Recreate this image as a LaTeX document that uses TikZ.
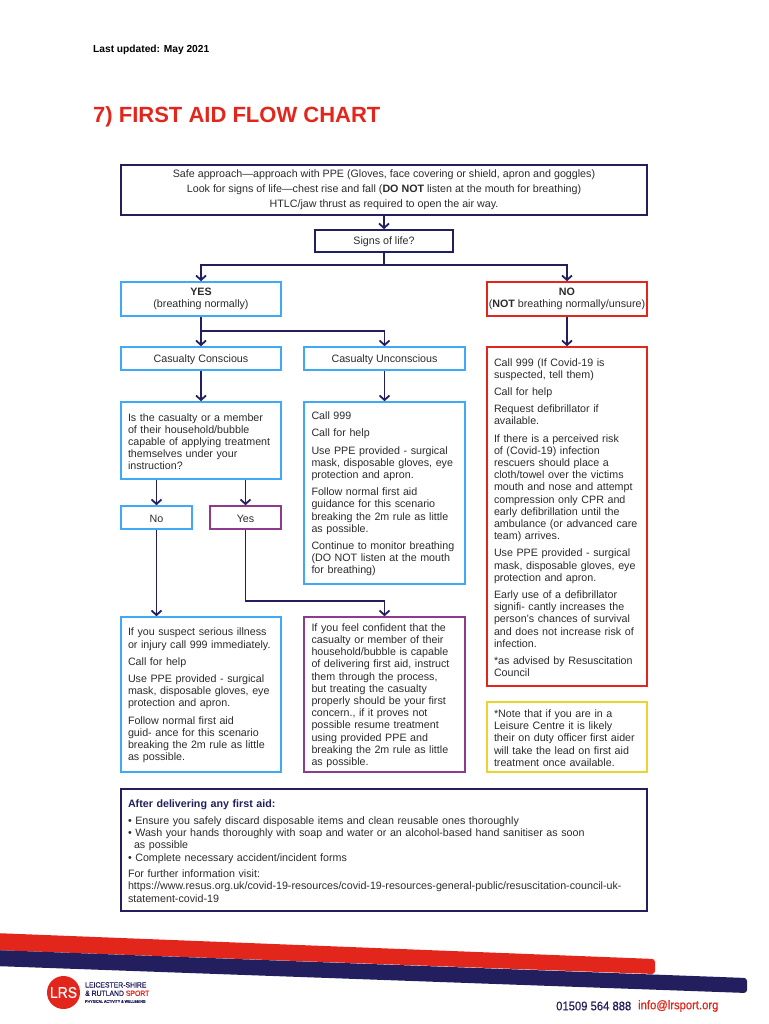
\documentclass[tikz,border=0pt]{standalone}
\usepackage{fontspec}
\setmainfont{Liberation Sans}
\newfontfamily\narrowfont[FakeStretch=0.9,FakeBold=0.6]{Liberation Sans}
\usetikzlibrary{arrows.meta}

\definecolor{lrsnavy}{HTML}{231F5E}
\definecolor{lrsred}{HTML}{E2261C}
\definecolor{lrsblue}{HTML}{3FA9F5}
\definecolor{lrspurple}{HTML}{8E3A8E}
\definecolor{lrsyellow}{HTML}{E8D52E}
\definecolor{bodygrey}{HTML}{2B2B2B}

\tikzset{
    panel/.style={draw=#1, line width=1.6pt, inner sep=0pt, text=bodygrey,
        font=\fontsize{10.7}{12.2}\selectfont, align=center,
        execute at begin node=\rule{0pt}{10pt}},
    textpanel/.style={panel=#1, align=left, text width=146pt},
    flow/.style={-{Straight Barb[length=4.5pt,width=10pt]}, line width=1.8pt, draw=lrsnavy},
    feed/.style={line width=1.8pt, draw=lrsnavy}
}

\begin{document}
\begin{tikzpicture}[x=1pt, y=-1pt]
    \useasboundingbox (0,0) rectangle (768,1024);

    % Page heading
    \node[anchor=west, inner sep=0pt, font=\bfseries\fontsize{10.2}{12}\selectfont] (updated) at (93,49.5) {Last updated: May 2021};
    \node[anchor=west, inner sep=0pt, text=lrsred, font=\bfseries\fontsize{22}{26}\selectfont] (title) at (93,117) {7) FIRST AID FLOW CHART};

    % Top of the chart
    \node[panel=lrsnavy, minimum width=526pt, minimum height=50pt] (approach) at (384,190)
        {Safe approach—approach with PPE (Gloves, face covering or shield, apron and goggles)\\[2.8pt]
         Look for signs of life—chest rise and fall (\textbf{DO NOT} listen at the mouth for breathing)\\[2.8pt]
         HTLC/jaw thrust as required to open the air way.};
    \node[panel=lrsnavy, minimum width=138pt, minimum height=22pt] (signs) at (384,241) {Signs of life?};
    \node[panel=lrsblue, minimum width=160pt, minimum height=34pt] (yes) at (201,299) {\textbf{YES}\\(breathing normally)};
    \node[panel=lrsred, minimum width=160pt, minimum height=34pt] (no) at (567,299) {\textbf{NO}\\(\textbf{NOT} breathing normally/unsure)};

    % Yes branch
    \node[panel=lrsblue, minimum width=160pt, minimum height=23pt] (conscious) at (201,358.5) {Casualty Conscious};
    \node[panel=lrsblue, minimum width=161pt, minimum height=23pt] (unconscious) at (384.5,358.5) {Casualty Unconscious};
    \node[textpanel=lrsblue, minimum width=160pt, minimum height=77pt] (question) at (201,440.5)
        {Is the casualty or a member\\of their household/bubble\\capable of applying treatment\\themselves under your\\instruction?};
    \node[panel=lrsblue, minimum width=71pt, minimum height=23pt] (choiceno) at (156.5,517.5) {No};
    \node[panel=lrspurple, minimum width=71pt, minimum height=23pt] (choiceyes) at (245.5,517.5) {Yes};
    \node[textpanel=lrsblue, minimum width=161pt, minimum height=182pt] (call) at (384.5,493)
        {Call 999\\[5pt]
         Call for help\\[5pt]
         Use PPE provided - surgical\\mask, disposable gloves, eye\\protection and apron.\\[5pt]
         Follow normal first aid\\guidance for this scenario\\breaking the 2m rule as little\\as possible.\\[5pt]
         Continue to monitor breathing\\(DO NOT listen at the mouth\\for breathing)};
    \node[textpanel=lrsblue, minimum width=160pt, minimum height=155pt] (suspect) at (201,694.5)
        {If you suspect serious illness\\or injury call 999 immediately.\\[5pt]
         Call for help\\[5pt]
         Use PPE provided - surgical\\mask, disposable gloves, eye\\protection and apron.\\[5pt]
         Follow normal first aid\\guid- ance for this scenario\\breaking the 2m rule as little\\as possible.};
    \node[textpanel=lrspurple, minimum width=161pt, minimum height=155pt] (confident) at (384.5,694.5)
        {If you feel confident that the\\casualty or member of their\\household/bubble is capable\\of delivering first aid, instruct\\them through the process,\\but treating the casualty\\properly should be your first\\concern., if it proves not\\possible resume treatment\\using provided PPE and\\breaking the 2m rule as little\\as possible.};

    % No branch
    \node[textpanel=lrsred, minimum width=160pt, minimum height=339pt] (defib) at (567,516.5)
        {Call 999 (If Covid-19 is\\suspected, tell them)\\[5pt]
         Call for help\\[5pt]
         Request defibrillator if\\available.\\[5pt]
         If there is a perceived risk\\of (Covid-19) infection\\rescuers should place a\\cloth/towel over the victims\\mouth and nose and attempt\\compression only CPR and\\early defibrillation until the\\ambulance (or advanced care\\team) arrives.\\[5pt]
         Use PPE provided - surgical\\mask, disposable gloves, eye\\protection and apron.\\[5pt]
         Early use of a defibrillator\\signifi- cantly increases the\\person's chances of survival\\and does not increase risk of\\infection.\\[5pt]
         *as advised by Resuscitation\\Council};
    \node[textpanel=lrsyellow, minimum width=160pt, minimum height=70pt] (leisure) at (567,737)
        {*Note that if you are in a\\Leisure Centre it is likely\\their on duty officer first aider\\will take the lead on first aid\\treatment once available.};

    % After care
    \node[panel=lrsnavy, align=left, text width=512pt, minimum width=526pt, minimum height=122pt] (after) at (384,850)
        {\textcolor{lrsnavy}{\textbf{After delivering any first aid:}}\\[4.5pt]
         • Ensure you safely discard disposable items and clean reusable ones thoroughly\\
         • Wash your hands thoroughly with soap and water or an alcohol-based hand sanitiser as soon\\
         \hspace*{6pt}as possible\\
         • Complete necessary accident/incident forms\\[4.5pt]
         For further information visit:\\
         https://www.resus.org.uk/covid-19-resources/covid-19-resources-general-public/resuscitation-council-uk-\\
         statement-covid-19};

    % Connectors
    \coordinate (splitlife) at (384,265);
    \coordinate (splityes) at (201,331);
    \coordinate (turnyes) at (300,601);
    \draw[flow] (approach) -- (signs);
    \draw[feed] (signs) -- (splitlife);
    \draw[flow] (splitlife) -| (yes.north);
    \draw[flow] (splitlife) -| (no.north);
    \draw[flow] (yes) -- (conscious);
    \draw[flow] (splityes) -| (unconscious.north);
    \draw[flow] (no) -- (defib.north -| no);
    \draw[flow] (conscious) -- (question);
    \draw[flow] (unconscious) -- (call);
    \draw[flow] (question.south -| choiceno) -- (choiceno);
    \draw[flow] (question.south -| choiceyes) -- (choiceyes);
    \draw[flow] (choiceno) -- (suspect.north -| choiceno);
    \draw[flow] (choiceyes.south) |- (turnyes) -| (confident.north);

    % Footer
    \fill[lrsred, rounded corners=3pt] (-6,933) -- (655,959) -- (655,974) -- (-6,950) -- cycle;
    \fill[lrsnavy, rounded corners=3pt] (-6,950) -- (747,978) -- (747,993) -- (-6,966) -- cycle;
    \fill[lrsred] (63.5,992.5) circle (16.5);
    \node[inner sep=0pt, text=white, font=\narrowfont\fontsize{15.5}{16}\selectfont] (lrs) at (63.5,992.5) {LRS};
    \node[anchor=north west, inner sep=0pt, align=left, text=lrsnavy, font=\narrowfont\fontsize{7.6}{8.4}\selectfont] (brand) at (85,982)
        {LEICESTER-SHIRE\\\& RUTLAND \textcolor{lrsred}{SPORT}\\[-1.5pt]{\fontsize{4}{5}\selectfont PHYSICAL ACTIVITY \& WELLBEING}};
    \node[anchor=west, inner sep=0pt, text=lrsnavy, font=\narrowfont\fontsize{12.5}{14}\selectfont] (phone) at (556,1006) {01509 564 888};
    \node[anchor=west, inner sep=0pt, text=lrsred, font=\narrowfont\fontsize{12.5}{14}\selectfont] (mail) at (638,1006) {info@lrsport.org};
\end{tikzpicture}
\end{document}
